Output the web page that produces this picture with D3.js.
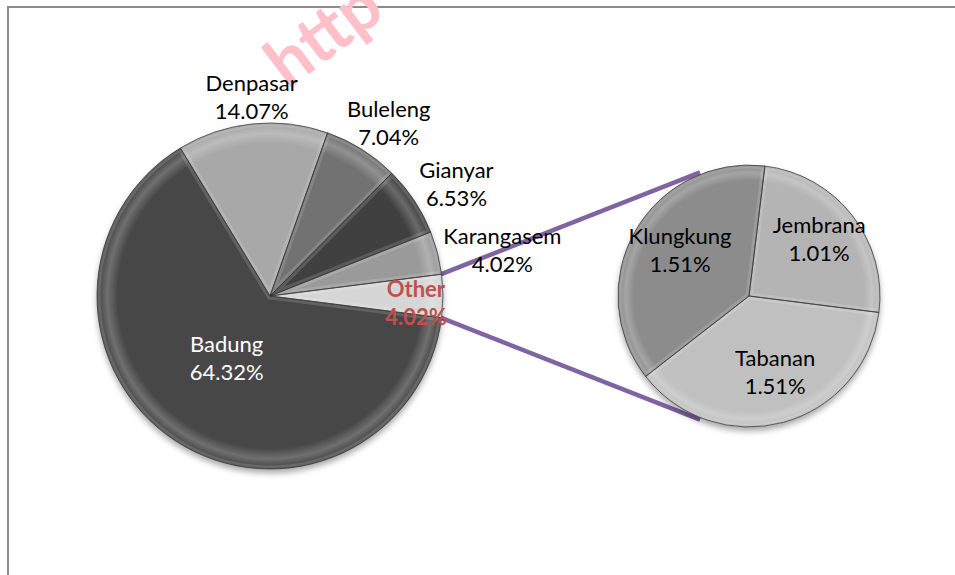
<!DOCTYPE html>
<html>
<head>
<meta charset="utf-8">
<script src="https://cdn.jsdelivr.net/npm/d3@7"></script>
<style>
  body { margin: 0; background: #fff; }
  svg { display: block; }
  text { font-family: Lato, "Open Sans", sans-serif; }
</style>
</head>
<body>
<svg id="chart" width="955" height="575"></svg>
<script>
// --- Data ---
const mainLabels = ["Badung", "Denpasar", "Buleleng", "Gianyar", "Karangasem", "Other"];
const mainValues = [64.32, 14.07, 7.04, 6.53, 4.02, 4.02];
const subLabels = ["Klungkung", "Jembrana", "Tabanan"];
const subValues = [1.51, 1.01, 1.51];

// --- Styles ---
const mainColors = ["#474747", "#a8a8a8", "#727272", "#404040", "#9a9a9a", "#d6d6d6"];
const subColors = ["#8c8c8c", "#b4b4b4", "#c0c0c0"];
const deg = Math.PI / 180;

const svg = d3.select("#chart");
const defs = svg.append("defs");

// soft drop shadow under each pie
const shadow = defs.append("filter").attr("id", "shadow")
    .attr("x", "-20%").attr("y", "-20%").attr("width", "140%").attr("height", "140%");
shadow.append("feGaussianBlur").attr("in", "SourceAlpha").attr("stdDeviation", 3).attr("result", "b");
shadow.append("feOffset").attr("in", "b").attr("dy", 4).attr("result", "o");
shadow.append("feComponentTransfer").attr("in", "o").attr("result", "s")
    .append("feFuncA").attr("type", "linear").attr("slope", 0.35);
const merge = shadow.append("feMerge");
merge.append("feMergeNode").attr("in", "s");
merge.append("feMergeNode").attr("in", "SourceGraphic");

// rim bevel gradient
function rimGradient(id, r) {
    const g = defs.append("radialGradient").attr("id", id)
        .attr("gradientUnits", "userSpaceOnUse").attr("cx", 0).attr("cy", 0).attr("r", r);
    [[0, "#fff", 0], [0.88, "#fff", 0], [0.94, "#fff", 0.22], [0.98, "#fff", 0.05], [1, "#000", 0.18]]
        .forEach(function (s) {
            g.append("stop").attr("offset", s[0]).attr("stop-color", s[1]).attr("stop-opacity", s[2]);
        });
}

// frame
svg.append("rect").attr("x", 8).attr("y", 7).attr("width", 980).attr("height", 600)
    .attr("fill", "none").attr("stroke", "#8c8c8c").attr("stroke-width", 2);

// watermark
svg.append("text")
    .attr("transform", "translate(288,90) rotate(-37)")
    .attr("font-size", 68).attr("font-weight", 700)
    .attr("fill", "#ffc0ca")
    .text("http");

// --- Layout ---
const mainC = { x: 270, y: 296, r: 173 };
const subC = { x: 749, y: 296, r: 131 };

const mainTotal = d3.sum(mainValues);
const otherSpan = 2 * Math.PI * mainValues[5] / mainTotal;
const mainStart = Math.PI / 2 + otherSpan / 2;

const mainPie = d3.pie().sort(null).startAngle(mainStart).endAngle(mainStart + 2 * Math.PI);
const mainArcs = mainPie(mainValues);

const subStart = -127.9 * deg;
const subPie = d3.pie().sort(null).startAngle(subStart).endAngle(subStart + 2 * Math.PI);
const subArcs = subPie(subValues);

rimGradient("rimMain", mainC.r);
rimGradient("rimSub", subC.r);

function pt(c, a, r) { return [c.x + r * Math.sin(a), c.y - r * Math.cos(a)]; }

// connector lines from "Other" to secondary pie
const otherArc = mainArcs[5];
const tilt = 21.6 * deg;
const connectors = [
    [otherArc.startAngle, -tilt],
    [otherArc.endAngle, Math.PI + tilt]
];
svg.append("g").selectAll("line").data(connectors).join("line")
    .attr("x1", function (d) { return pt(mainC, d[0], mainC.r - 1)[0]; })
    .attr("y1", function (d) { return pt(mainC, d[0], mainC.r - 1)[1]; })
    .attr("x2", function (d) { return pt(subC, d[1], subC.r + 2)[0]; })
    .attr("y2", function (d) { return pt(subC, d[1], subC.r + 2)[1]; })
    .attr("stroke", "#8064a2").attr("stroke-width", 4.5);

function drawPie(c, arcsData, colors, rimId, key) {
    const arc = d3.arc().innerRadius(0).outerRadius(c.r);
    const g = svg.append("g").attr("transform", "translate(" + c.x + "," + c.y + ")");
    const slices = g.append("g").attr("filter", "url(#shadow)");
    slices.selectAll("path.base").data(arcsData).join("path")
        .attr("class", "base").attr("d", arc)
        .attr("fill", function (d, i) { return colors[i]; });
    slices.selectAll("path.rim").data(arcsData).join("path")
        .attr("class", "rim").attr("d", arc).attr("fill", "url(#" + rimId + ")");
    // inner bevel along the slice edges
    arcsData.forEach(function (d, i) {
        const id = key + "clip" + i;
        defs.append("clipPath").attr("id", id).append("path").attr("d", arc(d));
        g.append("path").attr("d", arc(d))
            .attr("clip-path", "url(#" + id + ")")
            .attr("fill", "none").attr("stroke", "#fff").attr("stroke-opacity", 0.14).attr("stroke-width", 7);
    });
    g.append("g").selectAll("path").data(arcsData).join("path")
        .attr("d", arc).attr("fill", "none")
        .attr("stroke", "#333").attr("stroke-width", 0.7);
    return arc;
}

drawPie(mainC, mainArcs, mainColors, "rimMain", "m");
drawPie(subC, subArcs, subColors, "rimSub", "s");

// --- Labels ---
const fontSize = 22, lineH = 28;

function addLabel(x, y, lines, opts) {
    // (x, y) is the visual centre of the two-line block
    const t = svg.append("text")
        .attr("text-anchor", "middle")
        .attr("font-size", fontSize)
        .attr("font-weight", opts.bold ? 700 : 400)
        .attr("fill", opts.color || "#000");
    lines.forEach(function (s, i) {
        t.append("tspan").attr("x", x).attr("y", y - 7 + i * lineH).text(s);
    });
    return t;
}

function pct(v) { return v.toFixed(2) + "%"; }
function clamp01(v) { return Math.max(0, Math.min(1, v)); }

mainArcs.forEach(function (d, i) {
    const mid = (d.startAngle + d.endAngle) / 2;
    const lines = [mainLabels[i], pct(mainValues[i])];
    if (i === 0) {
        const p = pt(mainC, mid, mainC.r * 0.46);
        addLabel(p[0], p[1] - 4, lines, { color: "#fff" });
    } else if (i === 5) {
        const p = pt(mainC, mid, mainC.r * 0.855);
        addLabel(p[0] - 2, p[1] + 8, lines, { color: "#c0504d", bold: true });
    } else {
        // outside: box edge nearest to the pie sits just past the rim
        const t = addLabel(0, 0, lines, {});
        const w = t.node().getBBox().width, h = 40;
        const s = Math.sin(mid), co = Math.cos(mid);
        const sx = Math.sign(s) * clamp01(2 * Math.abs(s) - 0.5);
        const sy = Math.sign(co) * clamp01(2 * Math.abs(co) - 0.5);
        const a = pt(mainC, mid, mainC.r + 6);
        const cx = a[0] + sx * w / 2, cy = a[1] - sy * h / 2;
        t.selectAll("tspan").attr("x", cx).attr("y", function (_, k) { return cy - 7 + k * lineH; });
    }
});

subArcs.forEach(function (d, i) {
    const mid = (d.startAngle + d.endAngle) / 2;
    const p = pt(subC, mid, subC.r * 0.64);
    addLabel(p[0] + 4, p[1] - 4, [subLabels[i], pct(subValues[i])], {});
});
</script>
</body>
</html>
